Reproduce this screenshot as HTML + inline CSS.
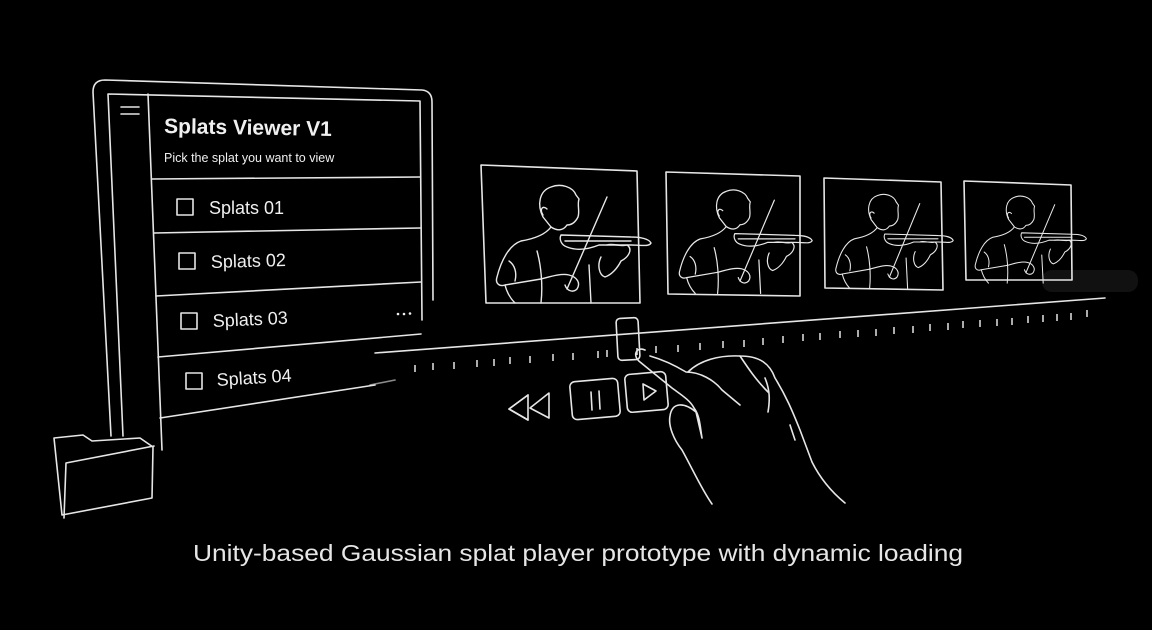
<!DOCTYPE html>
<html><head><meta charset="utf-8"><style>
html,body{margin:0;padding:0;background:#000;}
svg{display:block}
</style></head><body>
<svg width="1152" height="630" viewBox="0 0 1152 630" xmlns="http://www.w3.org/2000/svg" font-family="Liberation Sans, sans-serif">
<rect width="1152" height="630" fill="#000"/>
<defs>
<g id="v" fill="none" stroke="#e8e8e8" stroke-width="1.4" stroke-linejoin="round" stroke-linecap="round">
  <path d="M62,52 C56,40 58,26 70,22 C80,18 92,22 95,30 L98,34 C96,40 99,46 97,52 C94,58 90,60 86,60 C82,66 76,66 70,62 Z"/>
  <path d="M66,44 C62,40 58,44 62,50"/>
  <path d="M70,62 C64,70 52,74 40,76 C28,80 20,96 16,112 C14,118 18,122 24,120 L60,114"/>
  <path d="M24,120 C26,128 30,134 34,138"/>
  <path d="M28,96 C34,100 36,108 34,116"/>
  <path d="M60,114 C68,112 80,108 88,110 C96,112 100,118 96,124 C92,128 86,126 84,120"/>
  <path d="M80,70 L150,72 C160,72 168,74 170,78 C168,82 160,80 150,80 L118,80 C108,84 96,86 86,82 C80,80 78,74 80,70 Z"/>
  <path d="M84,76 L150,76"/>
  <path d="M86,124 L126,32"/>
  <path d="M126,80 C132,78 140,82 146,80 C152,84 148,92 140,96 C136,104 130,110 124,112 C118,110 116,100 120,92"/>
  <path d="M108,100 L110,138"/>
  <path d="M56,86 C60,100 62,120 60,138"/>
</g>
</defs>
<rect x="1042" y="270" width="96" height="22" rx="10" fill="#111"/>
<g fill="none" stroke="#e6e6e6" stroke-width="1.6" stroke-linejoin="round" stroke-linecap="round">
  <path d="M111,436 L93,92 Q93,80 105,80 L422,90 Q432,91 432,102 L433,300"/>
  <path d="M123,436 L108,94 L420,101 L422,320"/>
  <path d="M148,94 L162,450"/>
  <path d="M152,179 L420,177"/>
  <path d="M154,233 L420,228"/>
  <path d="M156,296 L421,282"/>
  <path d="M158,357 L421,334"/>
  <path d="M160,418 L375,385"/>
  <path d="M121,107 L139,107 M121,114 L139,114"/>
  <rect x="177" y="199" width="16" height="16"/>
  <rect x="179" y="253" width="16" height="16"/>
  <rect x="181" y="313" width="16" height="16"/>
  <rect x="186" y="373" width="16" height="16"/>
  <path d="M62,515 L54,438 L83,435 L92,441 L140,438 L153,447 L152,498 L62,515 Z"/>
  <path d="M64,518 L66,463 L154,446"/>
  <path d="M481,165 L637,171 L640,303 L486,303 Z"/>
  <path d="M666,172 L800,176 L800,296 L668,294 Z"/>
  <path d="M824,178 L941,182 L943,290 L825,288 Z"/>
  <path d="M964,181 L1071,185 L1072,280 L966,280 Z"/>
  <path d="M375,353 L1105,298"/>
  <path d="M370,385 L395,380" opacity="0.6"/>
  <rect x="617" y="318" width="22" height="42" rx="4" transform="rotate(-3 628 339)"/>
  <path d="M528,395 L509,409 L528,420 M549,393 L530,408 L549,418 Z" />
  <path d="M528,395 L528,420 L509,409 Z"/>
  <rect x="571" y="380" width="48" height="38" rx="5" transform="rotate(-5 595 399)"/>
  <path d="M591,392 L592,410 M599,391 L600,409"/>
  <rect x="626" y="373" width="41" height="38" rx="5" transform="rotate(-5 646 392)"/>
  <path d="M643,384 L644,400 L656,391 Z"/>
  <path d="M645,350 C636,346 632,356 640,362 L672,388 C680,394 690,400 694,408 C700,416 700,426 702,438 L696,412 C684,402 672,402 670,416 C668,426 674,440 682,450 C692,468 702,490 712,504"/>
  <path d="M650,356 C664,360 676,366 686,372 C700,372 714,380 722,390 L740,405"/>
  <path d="M688,372 C700,360 720,355 740,356 C760,356 770,364 775,378 C786,396 792,410 800,430 L812,462 C822,482 834,494 845,503"/>
  <path d="M740,356 C748,368 756,380 768,392"/>
  <path d="M765,378 C770,390 770,400 768,412"/>
  <path d="M790,425 L795,440"/>
</g>
<g stroke="#e6e6e6" stroke-width="1.5">
  <path d="M415,365 l0,7 M433,363 l0,7 M454,362 l0,7 M477,360 l0,7 M494,359 l0,7 M510,357 l0,7 M530,356 l0,7 M553,354 l0,7 M573,353 l0,7 M598,351 l0,7 M607,350 l0,7 M637,348 l0,7 M656,346 l0,7 M678,345 l0,7 M700,343 l0,7 M723,341 l0,7 M744,340 l0,7 M763,338 l0,7 M783,336 l0,7 M803,334 l0,7 M820,333 l0,7 M840,331 l0,7 M858,330 l0,7 M876,329 l0,7 M894,327 l0,7 M913,326 l0,7 M930,324 l0,7 M948,323 l0,7 M963,321 l0,7 M980,320 l0,7 M997,319 l0,7 M1012,318 l0,7 M1028,316 l0,7 M1043,315 l0,7 M1057,314 l0,7 M1071,313 l0,7 M1087,310 l0,7"/>
</g>
<use href="#v" transform="translate(481,165) scale(1,1)"/>
<use href="#v" transform="translate(666,172) scale(0.86,0.88)"/>
<use href="#v" transform="translate(824,178) scale(0.76,0.8)"/>
<use href="#v" transform="translate(964,181) scale(0.72,0.74)"/>
<g fill="#f0f0f0">
  <text x="164" y="133" font-size="21" font-weight="bold" transform="rotate(1 164 133)">Splats Viewer V1</text>
  <text x="164" y="162" font-size="12.5">Pick the splat you want to view</text>
  <text x="209" y="214" font-size="18">Splats 01</text>
  <text x="211" y="268" font-size="18" transform="rotate(-1.5 211 268)">Splats 02</text>
  <text x="213" y="327" font-size="18" transform="rotate(-2.5 213 327)">Splats 03</text>
  <text x="217" y="386" font-size="18" transform="rotate(-3.5 217 386)">Splats 04</text>
  <circle cx="398" cy="314" r="1.3"/><circle cx="404" cy="314" r="1.3"/><circle cx="410" cy="313.5" r="1.3"/>
</g>
<text x="193" y="561" font-size="23" fill="#e6e6e6" textLength="770" lengthAdjust="spacingAndGlyphs">Unity-based Gaussian splat player prototype with dynamic loading</text>
</svg>
</body></html>
